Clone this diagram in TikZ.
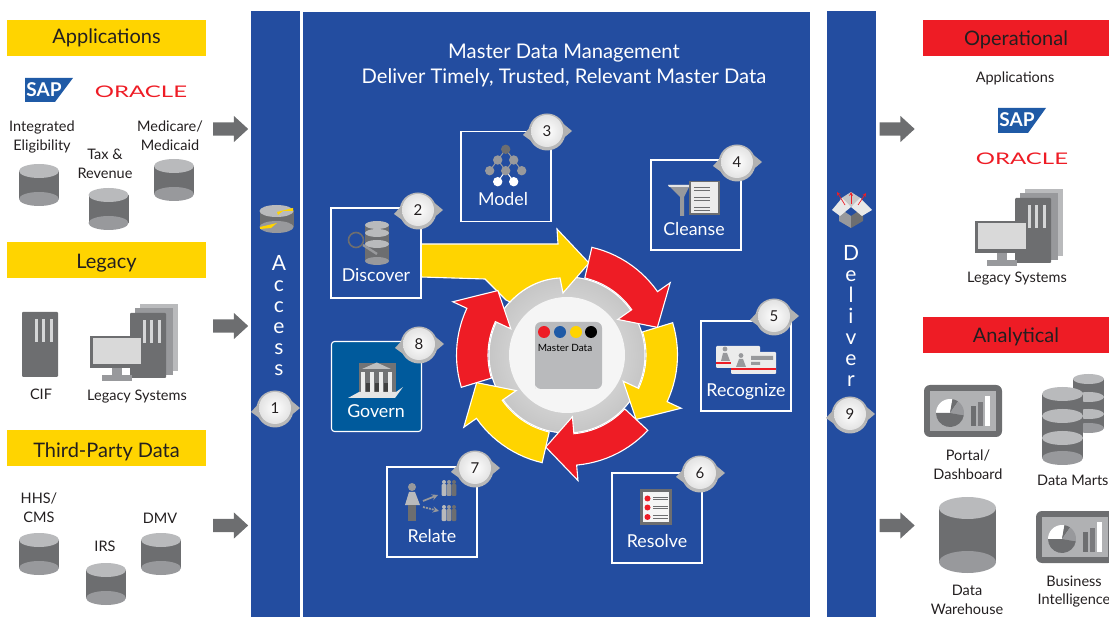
\documentclass[tikz,border=0pt]{standalone}
\usepackage{fontspec}
\setmainfont{Lato}
\usetikzlibrary{shapes.arrows,positioning}

\definecolor{mdmblue}{HTML}{234DA0}
\definecolor{govblue}{HTML}{005A9C}
\definecolor{hdyellow}{HTML}{FFD400}
\definecolor{hdred}{HTML}{EE1C25}
\definecolor{dbdark}{HTML}{6D6E70}
\definecolor{dbmid}{HTML}{98999C}
\definecolor{dblight}{HTML}{B9BABC}
\definecolor{sapblue}{HTML}{1F5AA6}
\definecolor{textgray}{HTML}{231F20}

% cylinder: x, y, x radius, half height, y radius
\newcommand{\dbcyl}[5]{
  \fill[dbdark] (#1-#3,#2-#4+#5) rectangle (#1+#3,#2+#4-#5);
  \fill[dbmid] (#1,#2+#4-#5) ellipse [x radius=#3, y radius=#5];
  \fill[dblight] (#1,#2-#4+#5) ellipse [x radius=#3, y radius=#5];
}
% tower with three slots: x, y of top left
\newcommand{\tower}[2]{
  \fill[dbdark, rounded corners=1pt] (#1,#2) rectangle ++(36,65);
  \foreach \s in {14,21.5,29} {\fill[dblight!60!white] (#1+\s-1.5,#2+7) rectangle ++(3,23);}
}
% legacy group: shift of the top left of the front tower
\newcommand{\legacygroup}[2]{
  \fill[dblight] (#1+10,#2-9) rectangle ++(38,67);
  \fill[dbmid] (#1+5,#2-5) rectangle ++(38,67);
  \tower{#1}{#2}
  \fill[dbmid] (#1-28,#2+62) rectangle ++(30,6);
  \fill[dbmid] (#1-18,#2+55) rectangle ++(10,7);
  \fill[dbdark] (#1-40,#2+23) rectangle ++(52,32);
  \fill[gray!30] (#1-37.5,#2+25.5) rectangle ++(48,26);
}
\newcommand{\pieslice}[3]{\fill[#3] (0,0) -- plot[domain=#1:#2,samples=10] (\x:14) -- cycle;}
% dashboard screen: x, y of top left
\newcommand{\dashscreen}[2]{
  \begin{scope}[shift={(#1,#2)}]
    \fill[dbdark, rounded corners=6pt] (0,0) rectangle (78,52);
    \fill[dblight!85!gray] (6,6) rectangle (72,46);
    \begin{scope}[shift={(26,28)}]
      \pieslice{-180}{-80}{white}
      \pieslice{-80}{-55}{dbdark}
      \pieslice{-55}{10}{dbmid}
      \pieslice{10}{180}{dbdark}
    \end{scope}
    \fill[dbdark] (47,21) rectangle ++(5,20);
    \fill[dbmid!80!black] (54,17) rectangle ++(5,24);
    \fill[white] (61,11) rectangle ++(5,30);
  \end{scope}
}
% ring arrow: start angle, colour
\newcommand{\ringarrow}[2]{
  \draw[ringedge, fill=#2] (#1:110.5) -- plot[domain=#1:#1+42,samples=14] (\x:110.5)
    -- (#1+42:126) -- (#1+60:94.5) -- (#1+42:62) -- (#1+42:79)
    -- plot[domain=#1+42:#1,samples=14] (\x:79) -- cycle;
}
% step badge: name, x, y, number
\newcommand{\stepbadge}[4]{
  \begin{scope}[shift={(#2,#3)}]
    \fill[gray!55] (0,0) circle [radius=18.5pt];
    \fill[gray!60] (-24,3) -- (-13,-9) -- (-13,11) -- cycle;
    \fill[gray!60] (25,-1) -- (13,-11) -- (13,9) -- cycle;
    \node[badge] (#1) at (0,-1) {#4};
  \end{scope}
}

\begin{document}
\begin{tikzpicture}[
    x=1pt, y=-1pt,
    panel/.style={rectangle, fill=mdmblue, inner sep=0pt},
    headbar/.style={rectangle, minimum height=36pt, inner sep=0pt, text=textgray, text height=16pt, text depth=0pt, font=\fontsize{20}{24}\selectfont},
    yellowhead/.style={headbar, fill=hdyellow, minimum width=199pt},
    redhead/.style={headbar, fill=hdred, minimum width=186pt},
    stepbox/.style={rectangle, draw=white, line width=1.1pt, minimum width=90pt, minimum height=90pt, inner sep=0pt},
    steplabel/.style={text=white, inner sep=0pt, font=\fontsize{17.8}{20}\selectfont},
    caption/.style={text=textgray, align=center, inner sep=0pt, font=\fontsize{14.5}{18.5}\selectfont},
    flowarrow/.style={single arrow, fill=dbdark, inner sep=0pt, text height=13pt, text depth=0pt, minimum width=26pt, minimum height=35pt, single arrow head extend=6.5pt, single arrow tip angle=85},
    badge/.style={circle, minimum size=32pt, inner sep=0pt, inner color=white, outer color=gray!22, text=textgray, font=\fontsize{15}{18}\selectfont},
    ringedge/.style={draw=white, line width=1.1pt, line join=miter},
    logotext/.style={inner sep=0pt, text=hdred, font=\fontsize{16}{16}\selectfont},
    saptext/.style={inner sep=0pt, text=white, font=\bfseries\fontsize{19}{19}\selectfont},
    vertword/.style={text=white, align=center, inner sep=0pt, font=\fontsize{21}{21}\selectfont}
]
\useasboundingbox (0,0) rectangle (1109,617);
\clip (0,0) rectangle (1109,617);

% Panels
\node[panel, minimum width=49pt, minimum height=606pt] (accessbar) at (275.5,314) {};
\node[panel, minimum width=507pt, minimum height=605pt] (mainpanel) at (556.5,314.5) {};
\node[panel, minimum width=49pt, minimum height=606pt] (deliverbar) at (851.5,314) {};

% Headings
\node[yellowhead, text height=12pt] (applications) at (106.5,38) {Applications};
\node[yellowhead, text height=18pt] (legacy) at (106.5,260) {Legacy};
\node[yellowhead, text height=18pt] (thirdparty) at (106.5,448) {Third-Party Data};
\node[redhead] (operational) at (1016,38) {Operational};
\node[redhead] (analytical) at (1016,335) {Analytical};

% Left sources
\fill[sapblue] (25,78) -- (73,78) -- (55,102) -- (25,102) -- cycle;
\node[saptext] (sapleft) at (44,90) {SAP};
\node[logotext] (oracleleft) at (141,92) {\scalebox{1.5}[1]{ORACLE}};
\node[caption] (integrated) at (42,137) {Integrated\\Eligibility};
\node[caption] (taxrevenue) at (105,164) {Tax \&\\Revenue};
\node[caption] (medicare) at (170,135.5) {Medicare/\\Medicaid};
\dbcyl{39}{185}{20}{21}{7}
\dbcyl{108.5}{209}{20}{21}{7}
\dbcyl{174}{180}{20}{21}{7}

\tower{22}{312}
\legacygroup{130}{313}
\node[caption] (cif) at (41,394) {CIF};
\node[caption] (legacyleft) at (137,397) {Legacy Systems};

\node[caption] (hhscms) at (39,507.5) {HHS/\\CMS};
\node[caption] (irs) at (105,546) {IRS};
\node[caption] (dmv) at (160,518) {DMV};
\dbcyl{39}{554}{20}{21}{7}
\dbcyl{106}{584}{20}{21}{7}
\dbcyl{161}{554}{20}{21}{7}

% Flow arrows
\node[flowarrow] (inapps) at (227,129) {};
\node[flowarrow] (inlegacy) at (227,326) {};
\node[flowarrow] (inthird) at (227,525.5) {};
\node[flowarrow] (outoper) at (893.5,129) {};
\node[flowarrow] (outanaly) at (893.5,525.5) {};

% Access and Deliver
\dbcyl{276.5}{219}{17}{14}{6}
\fill[hdyellow] (277,212) -- (293,208) -- (293,211) -- (283,211) -- (278,215) -- cycle;
\fill[hdyellow] (260,227) -- (277,223) -- (271,228) -- (260,229) -- cycle;
\node[vertword, anchor=north] (accessword) at (279,255) {A\\c\\c\\e\\s\\s};
\stepbadge{stepone}{275}{409}{1}

\fill[gray!45] (840,199) -- (851,192) -- (862,199) -- (851,207) -- cycle;
\fill[dbmid] (839,208) -- (851,216) -- (851,228) -- (839,221) -- cycle;
\fill[dbdark] (863,208) -- (851,216) -- (851,228) -- (863,221) -- cycle;
\fill[gray!18] (832,210) -- (842,198) -- (851,207) -- (840,216) -- cycle;
\fill[gray!18] (872,210) -- (860,198) -- (851,207) -- (862,216) -- cycle;
\draw[-stealth, hdred, line width=0.7pt] (845,205) -- (837,192);
\draw[-stealth, hdred, line width=0.7pt] (851,204) -- (851,192);
\draw[-stealth, hdred, line width=0.7pt] (858,205) -- (866,193);
\node[vertword, anchor=north] (deliverword) at (851,245) {D\\e\\l\\i\\v\\e\\r};
\stepbadge{stepnine}{850}{415}{9}

% Title
\node[text=white, align=center, inner sep=0pt, font=\fontsize{20.2}{25}\selectfont] (title) at (564,65.5) {Master Data Management\\Deliver Timely, Trusted, Relevant Master Data};

% Ring
\node[circle, draw=white, line width=1.1pt, minimum size=156pt, inner sep=0pt, inner color=gray!15, outer color=gray!45] (gearring) at (567,355) {};
\node[circle, fill=gray!8, minimum size=116pt, inner sep=0pt] (hubdisk) at (567,355) {};
\fill[dblight, rounded corners=6pt] (535,389) -- (535,322) -- (602,322) -- (602,389) -- (535,389) [sharp corners] -- cycle;
\fill[hdred] (544,332) circle [radius=6pt];
\fill[sapblue] (560,332) circle [radius=6pt];
\fill[hdyellow] (576,332) circle [radius=6pt];
\fill[black] (591,332) circle [radius=6pt];
\node[inner sep=0pt, text=black, font=\fontsize{10}{12}\selectfont] (masterdata) at (565,348) {Master Data};

\draw[ringedge, fill=hdyellow] (421,244) -- (558,244) -- (557,229) -- (589,263) -- (563,293) -- (560,278)
  .. controls (540,279) and (523,288) .. (510,302) -- (506,300) -- (485,279) -- (421,277);
\begin{scope}[shift={(567,355)}]
  \ringarrow{-77}{hdred}
  \ringarrow{-17}{hdyellow}
  \ringarrow{43}{hdred}
  \ringarrow{103}{hdyellow}
  \ringarrow{163}{hdred}
\end{scope}

% Steps
\node[stepbox] (discover) at (376,253) {};
\node[stepbox] (model) at (506,176.5) {};
\node[stepbox] (cleanse) at (696,205) {};
\node[stepbox] (recognize) at (746,366) {};
\node[stepbox] (resolve) at (657,518) {};
\node[stepbox] (relate) at (432,512) {};
\node[stepbox, fill=govblue, rounded corners=3pt] (govern) at (376.5,386.5) {};

\node[steplabel] (discoverlabel) at (376,275) {Discover};
\node[steplabel] (modellabel) at (503,199) {Model};
\node[steplabel] (cleanselabel) at (694,229) {Cleanse};
\node[steplabel] (recognizelabel) at (746,392) {Recognize};
\node[steplabel] (resolvelabel) at (657,541) {Resolve};
\node[steplabel] (relatelabel) at (432,536) {Relate};
\node[steplabel] (governlabel) at (376,411) {Govern};

% Discover icon
\dbcyl{377}{243}{12}{22}{4}
\fill[dblight] (377,233) ellipse [x radius=12, y radius=4];
\fill[dblight] (377,244) ellipse [x radius=12, y radius=4];
\draw[dbmid, line width=2.4pt] (363,245) -- (377,254);
\draw[dbdark, line width=1.6pt] (356,240) circle [radius=7.5pt];

% Model icon
\draw[white, line width=1pt] (505.7,170.7) -- (497.7,181.7) (505.7,170.7) -- (513.7,181.7);
\draw[dbmid, line width=1pt] (497.7,160) -- (505.7,149.3) -- (513.7,160) (489.7,170.7) -- (497.7,160) -- (505.7,170.7) -- (513.7,160) -- (521.7,170.7);
\fill[dbdark] (505.7,149.3) circle [radius=4.7pt];
\foreach \mx/\my in {497.7/160,513.7/160,489.7/170.7,505.7/170.7,521.7/170.7} {\fill[dbmid] (\mx,\my) circle [radius=4.7pt];}
\foreach \mx in {497.7,513.7} {\fill[white] (\mx,181.7) circle [radius=4.7pt];}

% Cleanse icon
\fill[dbmid] (668,185) -- (690,185) -- (684,197) -- (684,216) -- (680,216) -- (680,197) -- cycle;
\fill[gray!20] (668,185) -- (690,185) -- (689,187) -- (669,187) -- cycle;
\fill[gray!15, draw=dbdark, line width=1.6pt] (690,181.5) rectangle (719,214);
\foreach \ly in {187,197,207} {
  \draw[dbdark, line width=0.7pt] (694,\ly) -- (710,\ly) (694,\ly+3) -- (710,\ly+3);
}

% Recognize icon
\fill[gray!15, rounded corners=1pt] (716,346) rectangle (760,368);
\fill[hdred] (716,362) rectangle (731,364);
\fill[dbmid] (725,349) circle [radius=2.4pt] (721,361) -- (723,353) -- (727,353) -- (730,361) -- cycle;
\fill[gray!15, rounded corners=1pt] (731,352) rectangle (776,374);
\fill[hdred] (731,368.5) rectangle (776,370.5);
\fill[dbmid] (741,355.5) circle [radius=2.4pt] (736,367) -- (739,359) -- (743,359) -- (746,367) -- cycle;
\fill[dbmid] (751,356) rectangle (773,360) (751,362) rectangle (760,365);

% Resolve icon
\fill[gray!8, draw=dbdark, line width=2.6pt] (641.5,490.5) rectangle (670.5,523.5);
\foreach \ly in {498.5,507.5,517} {
  \fill[hdred] (647.5,\ly) circle [radius=3pt];
  \draw[dbdark, line width=0.9pt] (653,\ly-1.2) -- (668,\ly-1.2) (653,\ly+1.2) -- (668,\ly+1.2);
}

% Relate icon
\fill[dbmid] (412,487) circle [radius=4pt];
\fill[dblight] (409,492) -- (415,492) -- (420,505) -- (405,505) -- cycle;
\fill[dbdark] (408,505) rectangle (416,521);
\foreach \gy in {488,513} {
  \foreach \gx/\gc in {444/dblight,449/dbmid,454/dbdark} {
    \fill[\gc] (\gx,\gy-6) circle [radius=2pt];
    \fill[\gc, rounded corners=1pt] (\gx-2.4,\gy-4) rectangle (\gx+2.4,\gy+8);
  }
}
\draw[-stealth, dbmid, line width=1.7pt] (423,501) -- (438,495);
\draw[-stealth, dbmid, line width=1.7pt, dash pattern=on 2pt off 1pt] (423,507) -- (439,511);

% Govern icon
\fill[dbdark!70!gray] (359,363) rectangle (396,392);
\fill[gray!50] (376.7,362.5) -- (391,369) -- (362,369) -- cycle;
\foreach \cx in {361,370,379,388} {\fill[gray!15] (\cx,372) rectangle ++(4,20);}
\foreach \cx in {365.5,374.5,383.5} {\fill[black!75] (\cx,383) rectangle ++(4,9);}
\fill[gray!20] (348,398) -- (395,398) -- (403,387) -- (396,392) -- (359,392) -- cycle;

% Step badges
\stepbadge{steptwo}{418}{211}{2}
\stepbadge{stepthree}{547}{132}{3}
\stepbadge{stepfour}{737}{163}{4}
\stepbadge{stepfive}{774}{317}{5}
\stepbadge{stepsix}{700}{474}{6}
\stepbadge{stepseven}{475}{469}{7}
\stepbadge{stepeight}{419}{345}{8}

% Right targets
\node[caption] (appsright) at (1015,78) {Applications};
\fill[sapblue] (998,108) -- (1046,108) -- (1028,133) -- (998,133) -- cycle;
\node[saptext] (sapright) at (1017,120) {SAP};
\node[logotext] (oracleright) at (1022,159) {\scalebox{1.5}[1]{ORACLE}};
\legacygroup{1015}{198}
\node[caption] (legacyright) at (1017,279) {Legacy Systems};

\dashscreen{924}{385}
\dashscreen{1036}{511}
\node[caption] (portal) at (968,464.5) {Portal/\\Dashboard};
\dbcyl{1088.5}{403.5}{15.5}{29.5}{5}
\fill[dblight] (1088.5,397) ellipse [x radius=15.5, y radius=5];
\fill[dblight] (1088.5,414) ellipse [x radius=15.5, y radius=5];
\dbcyl{1062.5}{426}{20.5}{39}{7}
\fill[dblight] (1062.5,416) ellipse [x radius=20.5, y radius=7];
\fill[dblight] (1062.5,438) ellipse [x radius=20.5, y radius=7];
\node[caption, anchor=west] (datamarts) at (1037,480) {Data Marts};
\dbcyl{967.5}{535}{28.5}{38}{11}
\node[caption] (warehouse) at (967,600) {Data\\Warehouse};
\node[caption] (business) at (1074,591.5) {Business\\Intelligence};

\end{tikzpicture}
\end{document}
